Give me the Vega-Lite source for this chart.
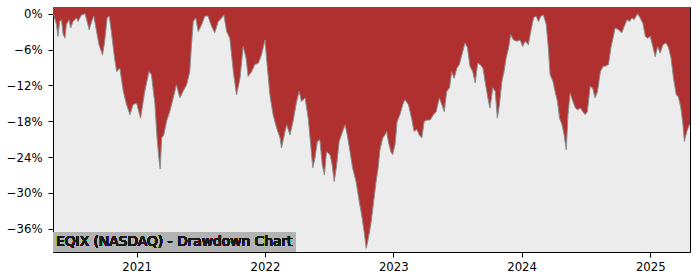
{
  "$schema": "https://vega.github.io/schema/vega-lite/v6.json",
  "autosize": "none",
  "width": 637,
  "height": 245,
  "padding": {"left": 53, "top": 7, "right": 10, "bottom": 28},
  "background": "#ffffff",
  "config": {
    "view": {"fill": "#ececec", "stroke": "#000000", "strokeWidth": 1},
    "font": "DejaVu Sans",
    "axis": {"labelFont": "DejaVu Sans", "labelFontSize": 11.7, "labelColor": "#000000", "tickColor": "#000000", "domainColor": "#000000", "grid": false, "title": null}
  },
  "data": {"values": [
    {"date": "2020-05-08", "dd": 0},
    {"date": "2020-05-10", "dd": -0.2},
    {"date": "2020-05-18", "dd": -1.8},
    {"date": "2020-05-22", "dd": -3.8},
    {"date": "2020-05-27", "dd": -1.3},
    {"date": "2020-06-01", "dd": -1.0},
    {"date": "2020-06-06", "dd": -3.5},
    {"date": "2020-06-11", "dd": -4.1},
    {"date": "2020-06-15", "dd": -1.8},
    {"date": "2020-06-23", "dd": -1.0},
    {"date": "2020-06-27", "dd": -2.4},
    {"date": "2020-07-04", "dd": -1.3},
    {"date": "2020-07-14", "dd": -0.7},
    {"date": "2020-07-18", "dd": -1.3},
    {"date": "2020-07-28", "dd": -0.2},
    {"date": "2020-08-07", "dd": 0},
    {"date": "2020-08-13", "dd": -1.3},
    {"date": "2020-08-19", "dd": -2.7},
    {"date": "2020-08-26", "dd": -1.3},
    {"date": "2020-09-01", "dd": -0.4},
    {"date": "2020-09-09", "dd": -3.0},
    {"date": "2020-09-16", "dd": -5.2},
    {"date": "2020-09-26", "dd": -6.9},
    {"date": "2020-10-02", "dd": -4.6},
    {"date": "2020-10-09", "dd": -0.7},
    {"date": "2020-10-15", "dd": -0.4},
    {"date": "2020-10-21", "dd": -3.0},
    {"date": "2020-10-29", "dd": -6.9},
    {"date": "2020-11-05", "dd": -9.7},
    {"date": "2020-11-14", "dd": -9.1},
    {"date": "2020-11-24", "dd": -13.0},
    {"date": "2020-12-03", "dd": -15.2},
    {"date": "2020-12-13", "dd": -16.9},
    {"date": "2020-12-22", "dd": -15.2},
    {"date": "2021-01-01", "dd": -15.0},
    {"date": "2021-01-12", "dd": -17.5},
    {"date": "2021-01-24", "dd": -13.0},
    {"date": "2021-02-05", "dd": -9.7},
    {"date": "2021-02-12", "dd": -10.2},
    {"date": "2021-02-22", "dd": -15.2},
    {"date": "2021-02-28", "dd": -20.8},
    {"date": "2021-03-06", "dd": -24.7},
    {"date": "2021-03-09", "dd": -26.0},
    {"date": "2021-03-13", "dd": -20.8},
    {"date": "2021-03-19", "dd": -20.3},
    {"date": "2021-03-27", "dd": -18.0},
    {"date": "2021-04-05", "dd": -16.4},
    {"date": "2021-04-15", "dd": -14.1},
    {"date": "2021-04-24", "dd": -11.9},
    {"date": "2021-05-04", "dd": -14.1},
    {"date": "2021-05-13", "dd": -13.0},
    {"date": "2021-05-23", "dd": -11.9},
    {"date": "2021-06-01", "dd": -9.7},
    {"date": "2021-06-06", "dd": -5.2},
    {"date": "2021-06-11", "dd": -1.3},
    {"date": "2021-06-18", "dd": -0.7},
    {"date": "2021-06-25", "dd": -3.0},
    {"date": "2021-07-05", "dd": -1.8},
    {"date": "2021-07-14", "dd": -0.4},
    {"date": "2021-07-23", "dd": -0.4},
    {"date": "2021-08-02", "dd": -2.1},
    {"date": "2021-08-11", "dd": -3.2},
    {"date": "2021-08-21", "dd": -1.3},
    {"date": "2021-08-31", "dd": -0.7},
    {"date": "2021-09-06", "dd": -0.2},
    {"date": "2021-09-14", "dd": -3.0},
    {"date": "2021-09-23", "dd": -4.1},
    {"date": "2021-10-03", "dd": -9.7},
    {"date": "2021-10-12", "dd": -13.6},
    {"date": "2021-10-22", "dd": -10.8},
    {"date": "2021-10-31", "dd": -5.5},
    {"date": "2021-11-08", "dd": -7.4},
    {"date": "2021-11-14", "dd": -10.5},
    {"date": "2021-11-24", "dd": -9.7},
    {"date": "2021-12-03", "dd": -8.5},
    {"date": "2021-12-13", "dd": -8.3},
    {"date": "2021-12-22", "dd": -6.9},
    {"date": "2022-01-01", "dd": -4.4},
    {"date": "2022-01-07", "dd": -8.5},
    {"date": "2022-01-15", "dd": -13.6},
    {"date": "2022-01-24", "dd": -16.9},
    {"date": "2022-02-03", "dd": -19.1},
    {"date": "2022-02-13", "dd": -20.8},
    {"date": "2022-02-17", "dd": -22.5},
    {"date": "2022-02-27", "dd": -19.7},
    {"date": "2022-03-04", "dd": -18.6},
    {"date": "2022-03-13", "dd": -20.3},
    {"date": "2022-03-22", "dd": -18.0},
    {"date": "2022-04-01", "dd": -14.7},
    {"date": "2022-04-08", "dd": -13.0},
    {"date": "2022-04-15", "dd": -14.7},
    {"date": "2022-04-25", "dd": -14.1},
    {"date": "2022-05-04", "dd": -17.5},
    {"date": "2022-05-11", "dd": -21.9},
    {"date": "2022-05-17", "dd": -25.8},
    {"date": "2022-05-23", "dd": -24.2},
    {"date": "2022-05-30", "dd": -21.4},
    {"date": "2022-06-06", "dd": -21.1},
    {"date": "2022-06-13", "dd": -25.3},
    {"date": "2022-06-19", "dd": -27.0},
    {"date": "2022-06-25", "dd": -23.1},
    {"date": "2022-07-05", "dd": -23.6},
    {"date": "2022-07-11", "dd": -25.3},
    {"date": "2022-07-17", "dd": -28.1},
    {"date": "2022-07-24", "dd": -25.3},
    {"date": "2022-07-31", "dd": -21.4},
    {"date": "2022-08-10", "dd": -19.7},
    {"date": "2022-08-17", "dd": -18.6},
    {"date": "2022-08-23", "dd": -20.3},
    {"date": "2022-08-31", "dd": -23.1},
    {"date": "2022-09-07", "dd": -25.8},
    {"date": "2022-09-17", "dd": -28.1},
    {"date": "2022-09-26", "dd": -31.4},
    {"date": "2022-10-03", "dd": -33.7},
    {"date": "2022-10-10", "dd": -36.5},
    {"date": "2022-10-16", "dd": -39.3},
    {"date": "2022-10-22", "dd": -37.6},
    {"date": "2022-10-29", "dd": -35.3},
    {"date": "2022-11-05", "dd": -32.0},
    {"date": "2022-11-13", "dd": -28.1},
    {"date": "2022-11-19", "dd": -25.8},
    {"date": "2022-11-24", "dd": -22.8},
    {"date": "2022-12-02", "dd": -20.8},
    {"date": "2022-12-08", "dd": -20.3},
    {"date": "2022-12-13", "dd": -19.7},
    {"date": "2022-12-18", "dd": -21.4},
    {"date": "2022-12-25", "dd": -23.1},
    {"date": "2022-12-30", "dd": -23.6},
    {"date": "2023-01-06", "dd": -21.9},
    {"date": "2023-01-12", "dd": -18.0},
    {"date": "2023-01-20", "dd": -16.9},
    {"date": "2023-01-28", "dd": -15.2},
    {"date": "2023-02-03", "dd": -14.4},
    {"date": "2023-02-13", "dd": -15.2},
    {"date": "2023-02-22", "dd": -17.5},
    {"date": "2023-03-01", "dd": -19.7},
    {"date": "2023-03-09", "dd": -19.4},
    {"date": "2023-03-16", "dd": -20.3},
    {"date": "2023-03-23", "dd": -20.8},
    {"date": "2023-03-30", "dd": -18.0},
    {"date": "2023-04-08", "dd": -17.8},
    {"date": "2023-04-16", "dd": -17.8},
    {"date": "2023-04-25", "dd": -16.9},
    {"date": "2023-05-03", "dd": -16.4},
    {"date": "2023-05-12", "dd": -14.1},
    {"date": "2023-05-19", "dd": -15.2},
    {"date": "2023-05-26", "dd": -16.4},
    {"date": "2023-06-02", "dd": -13.0},
    {"date": "2023-06-10", "dd": -12.4},
    {"date": "2023-06-16", "dd": -9.7},
    {"date": "2023-06-23", "dd": -10.8},
    {"date": "2023-07-01", "dd": -9.1},
    {"date": "2023-07-08", "dd": -8.5},
    {"date": "2023-07-15", "dd": -6.9},
    {"date": "2023-07-24", "dd": -4.9},
    {"date": "2023-07-31", "dd": -5.7},
    {"date": "2023-08-07", "dd": -8.8},
    {"date": "2023-08-15", "dd": -9.7},
    {"date": "2023-08-22", "dd": -11.6},
    {"date": "2023-08-29", "dd": -8.3},
    {"date": "2023-09-05", "dd": -8.5},
    {"date": "2023-09-13", "dd": -9.1},
    {"date": "2023-09-22", "dd": -12.4},
    {"date": "2023-09-29", "dd": -14.7},
    {"date": "2023-10-03", "dd": -15.8},
    {"date": "2023-10-11", "dd": -12.4},
    {"date": "2023-10-18", "dd": -13.0},
    {"date": "2023-10-24", "dd": -17.5},
    {"date": "2023-10-30", "dd": -15.2},
    {"date": "2023-11-06", "dd": -11.3},
    {"date": "2023-11-12", "dd": -9.7},
    {"date": "2023-11-18", "dd": -7.4},
    {"date": "2023-11-25", "dd": -5.7},
    {"date": "2023-12-01", "dd": -3.5},
    {"date": "2023-12-09", "dd": -4.4},
    {"date": "2023-12-18", "dd": -4.6},
    {"date": "2023-12-28", "dd": -4.4},
    {"date": "2024-01-04", "dd": -5.5},
    {"date": "2024-01-11", "dd": -4.6},
    {"date": "2024-01-20", "dd": -5.2},
    {"date": "2024-01-27", "dd": -3.0},
    {"date": "2024-02-04", "dd": -0.7},
    {"date": "2024-02-11", "dd": -0.4},
    {"date": "2024-02-18", "dd": -1.3},
    {"date": "2024-02-25", "dd": -0.4},
    {"date": "2024-03-03", "dd": -0.2},
    {"date": "2024-03-11", "dd": -1.8},
    {"date": "2024-03-17", "dd": -5.7},
    {"date": "2024-03-22", "dd": -10.2},
    {"date": "2024-03-30", "dd": -11.3},
    {"date": "2024-04-05", "dd": -13.0},
    {"date": "2024-04-12", "dd": -14.7},
    {"date": "2024-04-18", "dd": -17.5},
    {"date": "2024-04-25", "dd": -18.6},
    {"date": "2024-05-01", "dd": -20.3},
    {"date": "2024-05-07", "dd": -22.8},
    {"date": "2024-05-12", "dd": -16.9},
    {"date": "2024-05-18", "dd": -13.3},
    {"date": "2024-05-26", "dd": -14.7},
    {"date": "2024-06-02", "dd": -15.8},
    {"date": "2024-06-08", "dd": -16.1},
    {"date": "2024-06-16", "dd": -15.8},
    {"date": "2024-06-23", "dd": -16.4},
    {"date": "2024-06-30", "dd": -16.9},
    {"date": "2024-07-06", "dd": -16.4},
    {"date": "2024-07-14", "dd": -12.2},
    {"date": "2024-07-21", "dd": -12.4},
    {"date": "2024-07-28", "dd": -14.1},
    {"date": "2024-08-04", "dd": -13.0},
    {"date": "2024-08-12", "dd": -9.7},
    {"date": "2024-08-20", "dd": -8.8},
    {"date": "2024-08-26", "dd": -8.8},
    {"date": "2024-09-04", "dd": -8.5},
    {"date": "2024-09-11", "dd": -5.7},
    {"date": "2024-09-17", "dd": -4.1},
    {"date": "2024-09-23", "dd": -2.4},
    {"date": "2024-10-03", "dd": -2.7},
    {"date": "2024-10-12", "dd": -3.2},
    {"date": "2024-10-19", "dd": -2.1},
    {"date": "2024-10-27", "dd": -1.0},
    {"date": "2024-11-03", "dd": -1.3},
    {"date": "2024-11-10", "dd": -0.7},
    {"date": "2024-11-16", "dd": -1.0},
    {"date": "2024-11-26", "dd": 0},
    {"date": "2024-12-03", "dd": -0.7},
    {"date": "2024-12-11", "dd": -1.6},
    {"date": "2024-12-18", "dd": -3.8},
    {"date": "2024-12-24", "dd": -4.1},
    {"date": "2025-01-01", "dd": -3.8},
    {"date": "2025-01-09", "dd": -5.7},
    {"date": "2025-01-15", "dd": -7.2},
    {"date": "2025-01-22", "dd": -5.5},
    {"date": "2025-01-29", "dd": -6.6},
    {"date": "2025-02-06", "dd": -5.2},
    {"date": "2025-02-15", "dd": -4.9},
    {"date": "2025-02-22", "dd": -5.7},
    {"date": "2025-03-01", "dd": -7.4},
    {"date": "2025-03-08", "dd": -10.8},
    {"date": "2025-03-16", "dd": -13.6},
    {"date": "2025-03-22", "dd": -13.9},
    {"date": "2025-03-29", "dd": -15.8},
    {"date": "2025-04-04", "dd": -18.6},
    {"date": "2025-04-08", "dd": -21.4},
    {"date": "2025-04-15", "dd": -19.7},
    {"date": "2025-04-22", "dd": -18.6},
    {"date": "2025-04-24", "dd": -18.6}
  ]},
  "layer": [
    {
      "mark": {"type": "area", "color": "#b03030", "interpolate": "linear", "clip": true},
      "encoding": {
        "x": {"field": "date", "type": "temporal", "scale": {"type": "utc", "nice": false},
          "axis": {"format": "%Y", "formatType": "utc", "tickCount": {"interval": "year", "step": 1}, "tickSize": 5, "labelPadding": 4, "domain": false}},
        "y": {"field": "dd", "type": "quantitative", "scale": {"domain": [-39.9, 1.12], "nice": false, "zero": false},
          "axis": {"values": [-36, -30, -24, -18, -12, -6, 0], "labelExpr": "replace(format(datum.value, 'd'), '-', '\u2212') + '%'", "tickSize": 5, "labelPadding": 6, "domain": false}},
        "y2": {"datum": 1.12}
      }
    },
    {
      "mark": {"type": "line", "color": "#8c8c8c", "strokeWidth": 1, "interpolate": "linear", "clip": true},
      "encoding": {
        "x": {"field": "date", "type": "temporal"},
        "y": {"field": "dd", "type": "quantitative"}
      }
    },
    {
      "mark": {"type": "rect", "color": "#b3b3b3"},
      "encoding": {
        "x": {"datum": {"year": 2020, "month": 5, "date": 8, "utc": true}, "type": "temporal"},
        "x2": {"datum": {"year": 2022, "month": 3, "date": 30, "utc": true}},
        "y": {"datum": -39.9, "type": "quantitative"},
        "y2": {"datum": -36.6}
      }
    },
    {
      "mark": {"type": "text", "align": "left", "baseline": "middle", "dx": 3, "fontSize": 13.8, "font": "DejaVu Sans", "fontWeight": "normal", "fill": "#1a1a1a", "stroke": null},
      "encoding": {
        "x": {"datum": {"year": 2020, "month": 5, "date": 8, "utc": true}, "type": "temporal"},
        "y": {"datum": -38.27, "type": "quantitative"},
        "text": {"value": "EQIX (NASDAQ) - Drawdown Chart"}
      }
    }
  ]
}
